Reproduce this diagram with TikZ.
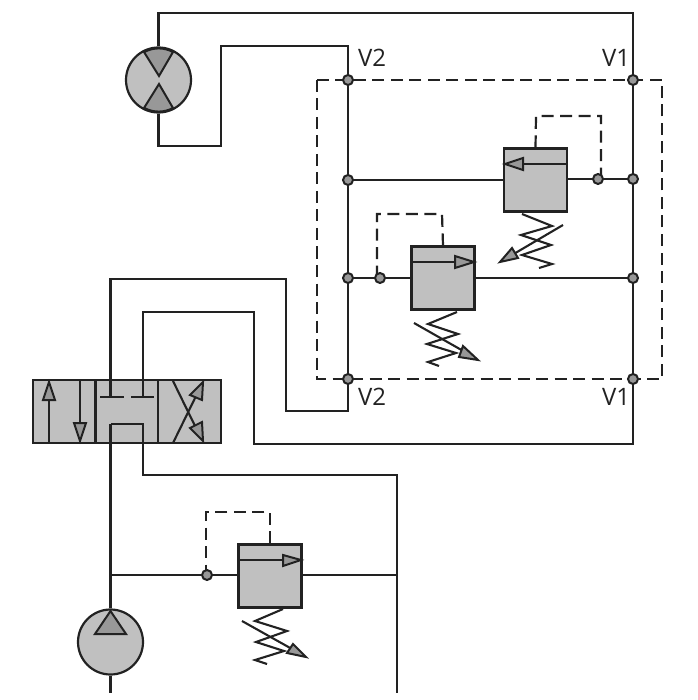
\documentclass[tikz,border=0pt]{standalone}
\usepackage{fontspec}
\setmainfont{Open Sans}
\definecolor{bodygray}{HTML}{C0C0C0}
\definecolor{tipgray}{HTML}{989898}
\definecolor{inkgray}{HTML}{222222}
\tikzset{
  pipe/.style={draw=inkgray,line width=2.1pt},
  pilot/.style={draw=inkgray,line width=2.2pt,dash pattern=on 12pt off 6.5pt},
  dot/.style={circle,draw=inkgray,fill=tipgray,line width=2pt,inner sep=0pt,minimum size=10pt},
  valvebox/.style={rectangle,draw=inkgray,fill=bodygray,line width=2.2pt,inner sep=0pt,minimum size=63pt},
  round/.style={circle,draw=inkgray,fill=bodygray,line width=2.2pt,inner sep=0pt,minimum size=65pt},
  tip/.style={draw=inkgray,fill=tipgray,line width=2pt,line join=miter},
  spring/.style={draw=inkgray,line width=2.1pt},
  portlabel/.style={inner sep=0pt,font=\fontsize{24}{24}\selectfont,text=inkgray}
}
\begin{document}
\begin{tikzpicture}[x=1pt,y=-1pt]
\useasboundingbox (0,0) rectangle (697,700);

% dashed housing
\draw[pilot] (317,80) rectangle (662,379);

% ports and junctions
\node[dot] (v2top) at (348,80) {};
\node[dot] (v1top) at (633,80) {};
\node[dot] (v2midA) at (348,180) {};
\node[dot] (v1midA) at (633,179) {};
\node[dot] (v2midB) at (348,278) {};
\node[dot] (v1midB) at (633,278) {};
\node[dot] (v2low) at (348,379) {};
\node[dot] (v1low) at (633,379) {};
\node[dot] (pickA) at (598,179) {};
\node[dot] (pickB) at (380,278) {};
\node[dot] (pickC) at (207,575) {};

\node[portlabel] (lblA) at (372,58) {V2};
\node[portlabel] (lblB) at (616,58) {V1};
\node[portlabel] (lblC) at (372,397) {V2};
\node[portlabel] (lblD) at (616,397) {V1};

% motor
\node[round] (motor) at (158.5,80) {};
\draw[tip] (144,52) -- (159,76) -- (173,52) arc (-62:-118:30.5) -- cycle;
\draw[tip] (144,108) -- (159,84) -- (173,108) arc (62:118:30.5) -- cycle;

% pump
\node[round] (pump) at (110.5,642) {};
\draw[tip] (110.5,611) -- (126,634) -- (95,634) -- cycle;

% relief valves
\node[valvebox] (reliefA) at (535.5,180) {};
\node[valvebox] (reliefB) at (443,278) {};
\node[valvebox] (reliefC) at (270,576) {};

% directional valve
\node[valvebox] (cellA) at (64.5,411.5) {};
\node[valvebox] (cellB) at (127,411.5) {};
\node[valvebox] (cellC) at (189.5,411.5) {};

% pipe corners
\coordinate (topright) at (633,13);
\coordinate (stopA) at (110.5,397);
\coordinate (stopB) at (143,397);
\coordinate (boxTL) at (110.5,424);
\coordinate (boxBR) at (143,443);
\coordinate (teeC) at (110.5,575);
\coordinate (teeD) at (397,575);
\coordinate (endD) at (397,693);
\coordinate (endP) at (110.5,693);
\coordinate (senseA) at (601,175);
\coordinate (senseB) at (377,274);
\coordinate (senseC) at (206,571);

% main lines
\draw[pipe] (motor) |- (topright) -- (v1top);
\draw[pipe] (motor) |- (221,146) |- (348,46) -- (v2top);
\draw[pipe] (v2top) -- (v2midA);
\draw[pipe] (v2midA) -- (v2midB);
\draw[pipe] (v2midB) -- (v2low);
\draw[pipe] (v1top) -- (v1midA);
\draw[pipe] (v1midA) -- (v1midB);
\draw[pipe] (v1midB) -- (v1low);
\draw[pipe] (v2midA) -- (reliefA);
\draw[pipe] (reliefA.east |- v1midA) -- (pickA);
\draw[pipe] (pickA) -- (v1midA);
\draw[pipe] (v2midB) -- (pickB);
\draw[pipe] (pickB) -- (reliefB);
\draw[pipe] (reliefB) -- (v1midB);
\draw[pipe] (v2low) |- (286,411) |- (110.5,279) -- (stopA);
\draw[pipe] (stopB) |- (254,312) |- (633,444) -- (v1low);
\draw[pipe] (boxTL) -- (pump);
\draw[pipe] (pump) -- (endP);
\draw[pipe] (teeC) -- (pickC);
\draw[pipe] (pickC) -- (reliefC.west |- pickC);
\draw[pipe] (reliefC.east |- teeD) -- (teeD);
\draw[pipe] (boxBR) |- (397,475) -- (endD);

% directional valve symbols
\draw[pipe] (100,397) -- (124,397);
\draw[pipe] (131,397) -- (154,397);
\draw[pipe] (boxBR) |- (boxTL);
\draw[pipe] (49,443) -- (49,395);
\draw[tip] (49,382) -- (55,400) -- (43,400) -- cycle;
\draw[pipe] (80,381) -- (80,428);
\draw[tip] (80,441) -- (74,423) -- (86,423) -- cycle;
\draw[pipe] (173,381) -- (198,432);
\draw[pipe] (173,443) -- (198,392);
\draw[tip] (203,382) -- (202,400) -- (190,395) -- cycle;
\draw[tip] (203,441) -- (190,428) -- (202,422) -- cycle;

% relief valve A
\draw[pipe] (reliefA.east |- 0,164) -- (520,164);
\draw[tip] (505,164) -- (523,158) -- (523,170) -- cycle;
\draw[pilot] (reliefA.north) -- (536,116) -| (senseA);
\draw[spring] (522,214) -- (552,226) -- (521,235) -- (551,245) -- (522,255) -- (552,264) -- (539,268);
\draw[spring] (563,225) -- (512,255);
\draw[tip] (500,262) -- (512,248) -- (518,258) -- cycle;

% relief valve B
\draw[pipe] (reliefB.west |- 0,262) -- (458,262);
\draw[tip] (474,262) -- (455,256) -- (455,268) -- cycle;
\draw[pilot] (reliefB.north) -- (442,214) -| (senseB);
\draw[spring] (457,312) -- (428,324) -- (458,334) -- (427,344) -- (456,353) -- (428,362) -- (439,366);
\draw[spring] (414,323) -- (465,352);
\draw[tip] (478,360) -- (463,346) -- (459,357) -- cycle;

% relief valve C
\draw[pipe] (reliefC.west |- 0,560) -- (286,560);
\draw[tip] (301,560) -- (283,555) -- (283,566) -- cycle;
\draw[pilot] (reliefC.north) -- (270,512) -| (senseC);
\draw[spring] (283,609) -- (255,621) -- (287,631) -- (256,642) -- (284,651) -- (255,660) -- (267,664);
\draw[spring] (242,621) -- (292,649);
\draw[tip] (306,657) -- (293,644) -- (287,653) -- cycle;
\end{tikzpicture}
\end{document}
